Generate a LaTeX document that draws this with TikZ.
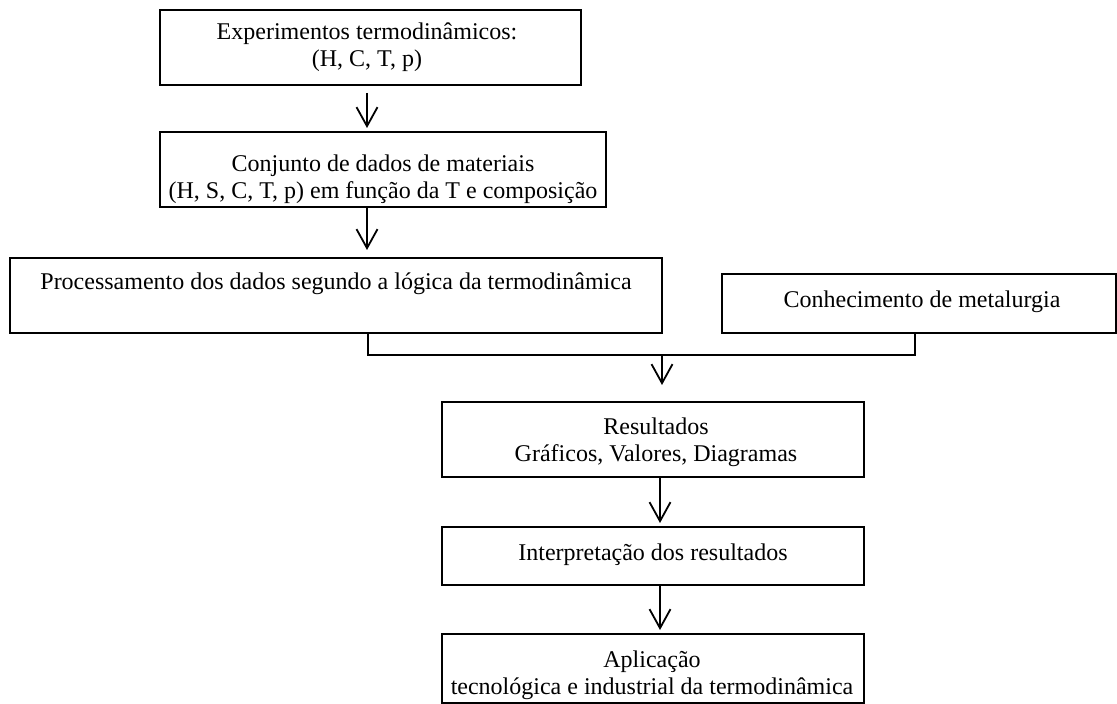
\documentclass[tikz,border=0pt]{standalone}
\usepackage{fontspec}
\setmainfont{Liberation Serif}
\usetikzlibrary{arrows.meta}
\begin{document}
\begin{tikzpicture}[x=0.5pt,y=-0.5pt,
  box/.style={draw, line width=0.9pt, inner sep=0pt, outer sep=0pt, anchor=north west},
  txt/.style={anchor=base, align=center, inner sep=0pt, font=\fontsize{12pt}{13.5pt}\selectfont},
  arr/.style={line width=0.9pt, -{Straight Barb[length=9.5pt,width=10.5pt,line width=0.9pt]}},
  conn/.style={line width=0.9pt}]
\useasboundingbox (0,0) rectangle (1117,704);
% boxes
\node[box, minimum width=210.5pt, minimum height=37.5pt] (b1) at (160,10) {};
\node[box, minimum width=223pt, minimum height=37.5pt] (b2) at (160,132) {};
\node[box, minimum width=326pt, minimum height=37.5pt] (b3) at (10,258) {};
\node[box, minimum width=197pt, minimum height=29.5pt] (b4) at (722,274) {};
\node[box, minimum width=211pt, minimum height=37.5pt] (b5) at (442,402) {};
\node[box, minimum width=211pt, minimum height=29pt] (b6) at (442,527) {};
\node[box, minimum width=211pt, minimum height=34.5pt] (b7) at (442,634) {};
% texts (base anchor = baseline of the last line)
\node[txt] (t1) at (367,67) {Experimentos termodinâmicos:\\(H, C, T, p)};
\node[txt] (t2) at (383,199) {Conjunto de dados de materiais\\(H, S, C, T, p) em função da T e composição};
\node[txt] (t3) at (336,290) {Processamento dos dados segundo a lógica da termodinâmica};
\node[txt] (t4) at (922,308) {Conhecimento de metalurgia};
\node[txt] (t5) at (656,462) {Resultados\\Gráficos, Valores, Diagramas};
\node[txt] (t6) at (653,560) {Interpretação dos resultados};
\node[txt] (t7) at (652,694) {Aplicação\\tecnológica e industrial da termodinâmica};
% connectors
\coordinate (c1) at (367,0);
\draw[arr, shorten <=4pt, shorten >=2pt] (c1 |- b1.south) -- (c1 |- b2.north);
\draw[arr, shorten >=4pt] (c1 |- b2.south) -- (c1 |- b3.north);
\coordinate (jl) at (368,355);
\coordinate (jr) at (915,355);
\coordinate (jm) at (662,355);
\draw[conn] (jl |- b3.south) -- (jl) -- (jr) -- (jr |- b4.south);
\draw[arr, shorten >=8.5pt] (jm) -- (jm |- b5.north);
\coordinate (c2) at (660,0);
\draw[arr, shorten >=2pt] (c2 |- b5.south) -- (c2 |- b6.north);
\draw[arr, shorten >=2pt] (c2 |- b6.south) -- (c2 |- b7.north);
\end{tikzpicture}
\end{document}
